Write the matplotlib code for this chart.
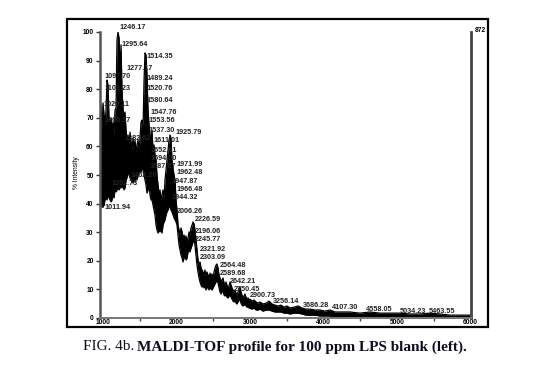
import matplotlib
matplotlib.use("Agg")
import matplotlib.pyplot as plt
from matplotlib.patches import Rectangle
from matplotlib.ticker import MultipleLocator
import numpy as np

# spectrum envelope: m/z, upper and lower edge of the trace (% intensity)
mz = [959, 973, 986, 1000, 1014, 1027, 1041, 1054, 1068, 1082, 1095, 1109, 1122, 1136, 1150,
      1163, 1177, 1190, 1204, 1218, 1231, 1245, 1258, 1272, 1286, 1299, 1313, 1326, 1340, 1354,
      1367, 1381, 1394, 1408, 1422, 1435, 1449, 1462, 1476, 1490, 1503, 1517, 1530, 1544, 1558,
      1571, 1585, 1598, 1612, 1626, 1639, 1653, 1666, 1680, 1694, 1707, 1721, 1734, 1748, 1762,
      1775, 1789, 1802, 1816, 1830, 1843, 1857, 1870, 1884, 1898, 1911, 1925, 1938, 1952, 1966,
      1979, 1993, 2006, 2020, 2034, 2047, 2061, 2075, 2088, 2102, 2115, 2129, 2143, 2156, 2170,
      2183, 2197, 2211, 2224, 2238, 2251, 2265, 2278, 2292, 2306, 2319, 2333, 2346, 2360, 2374,
      2387, 2401, 2414, 2428, 2442, 2455, 2469, 2482, 2496, 2510, 2523, 2537, 2550, 2564, 2578,
      2591, 2605, 2618, 2632, 2646, 2659, 2673, 2686, 2700, 2714, 2727, 2741, 2755, 2768, 2782,
      2795, 2809, 2822, 2836, 2850, 2863, 2877, 2890, 2904, 2918, 2931, 2945, 2958, 2972, 2986,
      2999, 3026, 3054, 3081, 3108, 3135, 3176, 3217, 3258, 3298, 3339, 3380, 3421, 3462, 3503,
      3543, 3598, 3652, 3706, 3761, 3815, 3883, 3951, 4019, 4087, 4155, 4223, 4359, 4495, 4631,
      4767, 4903, 5039, 5175, 5311, 5447, 5583, 5719, 5855, 5991]
top = [58.7, 74.5, 65.7, 75.2, 71.0, 67.5, 72.7, 83.2, 81.5, 69.2, 67.5, 69.9, 65.7, 68.5, 64.0,
       72.7, 73.4, 97.2, 100.0, 97.9, 86.7, 95.5, 79.7, 73.4, 69.9, 72.0, 65.7, 62.2, 64.0, 60.5,
       65.0, 61.5, 58.7, 62.9, 59.4, 62.2, 58.0, 60.5, 62.2, 58.7, 62.9, 68.5, 69.2, 65.7, 83.2,
       92.7, 92.0, 85.0, 72.7, 67.5, 64.0, 62.2, 65.7, 58.7, 60.5, 57.0, 55.2, 50.0, 46.5, 43.0,
       44.8, 41.3, 43.0, 44.8, 41.3, 48.3, 51.7, 55.2, 58.7, 62.2, 64.0, 62.9, 55.2, 52.4, 50.0,
       48.3, 41.3, 37.8, 32.5, 30.8, 29.0, 31.5, 30.1, 28.0, 29.0, 27.3, 28.7, 26.6, 28.0, 30.1,
       29.0, 31.5, 32.5, 33.6, 32.9, 30.8, 27.3, 23.8, 20.3, 18.5, 19.6, 17.5, 16.8, 16.1, 15.0,
       16.8, 14.7, 16.1, 15.0, 14.0, 15.7, 14.7, 15.4, 14.0, 16.1, 17.5, 18.5, 18.9, 17.5, 15.0,
       14.0, 12.6, 13.3, 14.0, 12.2, 11.5, 12.6, 11.5, 10.5, 11.2, 12.6, 11.5, 10.5, 9.8, 9.1,
       9.8, 8.7, 8.0, 9.1, 10.5, 10.8, 9.1, 8.0, 7.3, 7.7, 8.4, 7.3, 6.6, 7.0, 6.3,
       6.6, 5.9, 6.3, 5.6, 5.2, 5.6, 4.9, 5.2, 5.9, 4.9, 4.5, 4.2, 4.5, 3.8, 4.2,
       3.5, 3.8, 4.2, 3.5, 3.1, 3.1, 2.8, 2.8, 2.4, 2.8, 2.1, 2.1, 2.1, 1.7, 2.1,
       1.7, 1.7, 1.7, 1.4, 1.4, 1.7, 1.4, 1.0, 1.0, 1.0]
bottom = [43.0, 41.3, 38.8, 38.8, 39.5, 41.3, 42.0, 41.3, 43.0, 42.0, 41.3, 40.6, 41.3, 43.0, 42.0,
          44.8, 44.1, 44.8, 45.5, 44.8, 45.5, 46.2, 45.5, 46.5, 44.8, 45.5, 48.3, 49.0, 51.0, 50.0,
          49.0, 48.3, 47.6, 47.2, 49.0, 47.6, 50.0, 48.3, 49.7, 51.0, 51.7, 51.0, 52.4, 51.7, 50.0,
          48.3, 46.5, 43.7, 44.8, 46.5, 43.0, 41.3, 41.3, 39.5, 37.8, 36.0, 32.5, 30.8, 29.7, 30.8,
          30.1, 31.5, 29.7, 32.5, 33.6, 34.3, 36.0, 37.1, 37.8, 39.5, 38.5, 37.8, 37.1, 36.0, 35.0,
          34.3, 33.6, 32.5, 29.0, 25.5, 23.8, 22.0, 21.0, 19.6, 21.0, 22.0, 20.3, 21.0, 23.1, 23.8,
          23.1, 24.5, 25.5, 26.6, 27.3, 25.5, 22.0, 18.5, 16.1, 14.0, 12.6, 11.5, 10.8, 11.5, 10.5,
          11.2, 9.8, 10.5, 11.2, 9.8, 10.8, 10.1, 9.8, 10.5, 11.2, 11.9, 12.6, 13.3, 12.2, 10.5,
          9.1, 8.4, 9.1, 9.8, 8.0, 7.7, 8.4, 7.3, 7.0, 7.7, 8.0, 7.3, 6.6, 5.9, 5.6,
          6.3, 5.2, 4.9, 5.6, 6.3, 6.3, 5.2, 4.5, 4.2, 4.5, 4.9, 4.2, 3.8, 3.8, 3.5,
          3.5, 3.1, 3.5, 2.8, 2.8, 3.1, 2.4, 2.8, 2.8, 2.4, 2.1, 2.1, 2.1, 1.7, 1.7,
          1.4, 1.7, 1.7, 1.4, 1.0, 1.0, 1.0, 0.7, 0.7, 0.7, 0.3, 0.3, 0.3, 0.3, 0.3,
          0.0, 0.0, 0.0, 0.0, 0.0, 0.0, 0.0, 0.0, 0.0, 0.0]

# peak annotations: text, where the text sits (m/z, % intensity)
peak_text = ["1246.17", "1295.64", "1277.17", "1097.70", "1108.23", "1020.11", "1060.57",
             "1514.35", "1489.24", "1520.76", "1580.64", "1547.76", "1553.56", "1537.30",
             "1925.79", "1382.62", "1611.01", "1652.61", "1694.00", "1687.87", "1971.99",
             "1962.48", "1462.26", "1392.73", "1947.87", "1966.48", "1944.32", "1011.94",
             "2006.26", "2226.59", "2196.06", "2245.77", "2321.92", "2303.09", "2564.48",
             "2589.68", "2642.21", "2750.45", "2900.73", "3256.14", "3686.28", "4107.30",
             "4558.05", "5034.23", "5463.55"]
peak_x = [1218, 1258, 1313, 1014, 1014, 1000, 1014,
          1585, 1598, 1598, 1598, 1639, 1612, 1612,
          1979, 1286, 1680, 1639, 1639, 1626, 2006,
          2006, 1367, 1122, 1938, 2006, 1938, 1014,
          2006, 2251, 2251, 2251, 2319, 2319, 2591,
          2591, 2727, 2782, 2999, 3312, 3720, 4114,
          4577, 5039, 5434]
peak_y = [101.4, 95.5, 87.4, 84.3, 80.4, 74.5, 69.2,
          91.6, 83.9, 80.4, 75.9, 71.7, 68.9, 65.7,
          65.0, 62.9, 61.9, 58.7, 55.9, 53.1, 53.5,
          50.7, 49.7, 46.9, 47.9, 45.1, 42.0, 38.8,
          37.1, 34.3, 30.4, 27.3, 23.8, 21.0, 18.2,
          15.4, 12.6, 10.1, 7.7, 5.6, 4.2, 3.5,
          2.8, 2.4, 2.4]

x_ticks = [1000, 2000, 3000, 4000, 5000, 6000]
y_ticks = [0, 10, 20, 30, 40, 50, 60, 70, 80, 90, 100]

fig = plt.figure(figsize=(5.59, 3.77), dpi=100)
ax = fig.add_axes([100 / 559, 59 / 377, 371 / 559, 286 / 377])

ax.fill_between(mz, bottom, top, color="black", lw=0)
ax.plot(mz, top, color="black", lw=0.9)
ax.plot(mz, bottom, color="black", lw=0.9)

for s, x, y in zip(peak_text, peak_x, peak_y):
    ax.text(x, y, s, fontsize=5.2, fontweight="bold", family="Liberation Sans",
            color="#222222", ha="left", va="center", clip_on=False)

ax.set_xlim(959, 6005)
ax.set_ylim(0, 100)
ax.set_xticks(x_ticks)
ax.set_xticklabels([str(t) for t in x_ticks])
ax.xaxis.set_minor_locator(MultipleLocator(500))
ax.set_yticks(y_ticks)
ax.tick_params(axis="x", which="major", length=0, pad=0.5, labelsize=4.8)
ax.tick_params(axis="x", which="minor", length=2.5, width=1, color="#444444")
ax.tick_params(axis="y", length=3, width=1, pad=1.5, labelsize=4.8, color="#333333")
for lab in ax.get_xticklabels() + ax.get_yticklabels():
    lab.set_fontweight("bold")
    lab.set_family("Liberation Sans")

ax.spines["top"].set_visible(False)
ax.spines["left"].set_color("#555555")
ax.spines["left"].set_linewidth(1.8)
ax.spines["bottom"].set_color("#777777")
ax.spines["bottom"].set_linewidth(1.4)
ax.spines["right"].set_color("#444444")
ax.spines["right"].set_linewidth(2.0)

fig.text(77 / 559, 1 - 173 / 377, "% Intensity", rotation=90, fontsize=4.8,
         family="Liberation Sans", ha="center", va="center")
fig.text(475 / 559, 1 - 30 / 377, "872", fontsize=4.8, fontweight="bold",
         family="Liberation Sans", ha="left", va="center")

# outer frame of the scanned panel
fig.add_artist(Rectangle((67 / 559, 1 - 327 / 377), 421 / 559, 308 / 377,
                         transform=fig.transFigure, fill=False, ec="black", lw=1.6))

# caption: plain figure number, bold title
renderer = fig.canvas.get_renderer()
t1 = fig.text(83 / 559, 1 - 347 / 377, "FIG. 4b.", fontsize=11,
              family="Liberation Serif", color="#0d0d20", ha="left", va="center")
bb = t1.get_window_extent(renderer)
fig.text(bb.x1 / fig.bbox.width + 3 / 559, 1 - 347 / 377,
         "MALDI-TOF profile for 100 ppm LPS blank (left).", fontsize=11,
         fontweight="bold", family="Liberation Serif", color="#0d0d20",
         ha="left", va="center")

fig.savefig("out.png", dpi=100)
